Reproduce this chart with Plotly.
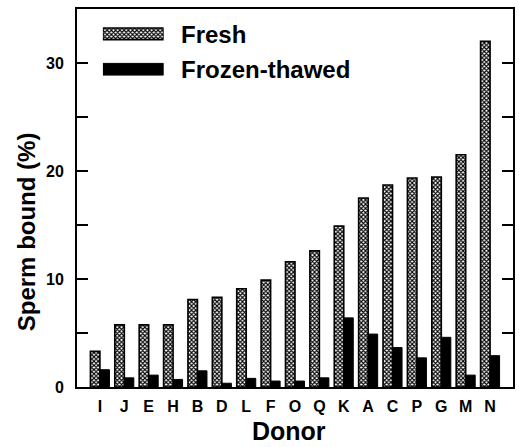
import plotly.graph_objects as go

donors = ["I", "J", "E", "H", "B", "D", "L", "F", "O", "Q", "K", "A", "C", "P", "G", "M", "N"]
fresh = [3.3, 5.75, 5.75, 5.75, 8.1, 8.3, 9.1, 9.9, 11.6, 12.6, 14.9, 17.5, 18.7, 19.35, 19.45, 21.5, 32.0]
frozen = [1.6, 0.85, 1.1, 0.7, 1.5, 0.35, 0.8, 0.55, 0.55, 0.85, 6.4, 4.9, 3.65, 2.7, 4.6, 1.1, 2.9]
series_names = ["Fresh", "Frozen-thawed"]

W, H = 519, 447
L, R, T, B = 77, 4, 9, 60
PW, PH = W - L - R, H - T - B


def px(x):
    return (x - L) / PW


def py(y):
    return (H - B - y) / PH


FONT = "Arial, Liberation Sans, sans-serif"
fresh_pattern = dict(shape="x", size=3, solidity=0.6, fgcolor="black", bgcolor="white", fillmode="replace")

fig = go.Figure()
fig.add_trace(go.Bar(x=donors, y=fresh, name=series_names[0],
                     marker=dict(color="white", pattern=fresh_pattern,
                                 line=dict(color="black", width=1.6)),
                     showlegend=False))
fig.add_trace(go.Bar(x=donors, y=frozen, name=series_names[1],
                     marker=dict(color="black", line=dict(color="black", width=1)),
                     showlegend=False))

# legend swatches drawn as bars on small hidden axes
fig.add_trace(go.Bar(x=[1], y=[1], orientation="h", width=0.33, xaxis="x2", yaxis="y2",
                     marker=dict(color="white", pattern=fresh_pattern,
                                 line=dict(color="black", width=1.6)),
                     showlegend=False, hoverinfo="skip"))
fig.add_trace(go.Bar(x=[1], y=[0], orientation="h", width=0.33, xaxis="x2", yaxis="y2",
                     marker=dict(color="black", line=dict(color="black", width=1)),
                     showlegend=False, hoverinfo="skip"))

fig.update_layout(
    width=W, height=H,
    margin=dict(l=L, r=R, t=T, b=B),
    paper_bgcolor="white", plot_bgcolor="white",
    barmode="group", bargap=0.22, bargroupgap=0,
    font=dict(family=FONT, color="black"),
    xaxis=dict(range=[-0.94, 16.94], showline=True, linecolor="black", linewidth=2,
               mirror=True, ticks="", showgrid=False,
               tickfont=dict(size=16, family=FONT, weight="bold"),
               ticklabelstandoff=4),
    yaxis=dict(range=[0, 35], showline=True, linecolor="black", linewidth=2,
               mirror="allticks", ticks="inside", ticklen=11, tickwidth=1.5, tickcolor="black",
               dtick=10, showgrid=False, zeroline=False,
               minor=dict(dtick=5, ticks="inside", ticklen=11, tickwidth=1.5, tickcolor="black", showgrid=False),
               tickfont=dict(size=16, family=FONT, weight="bold"),
               ticklabelstandoff=8),
    xaxis2=dict(domain=[px(103), px(164)], range=[0, 1], visible=False, anchor="y2", fixedrange=True),
    yaxis2=dict(domain=[0.82, 0.955], range=[-0.22, 1.22], visible=False, anchor="x2", fixedrange=True),
    annotations=[
        dict(text=series_names[0], xref="paper", yref="paper", x=px(179), y=py(34),
             xanchor="left", yanchor="middle", showarrow=False,
             font=dict(size=24, family=FONT, weight="bold")),
        dict(text=series_names[1], xref="paper", yref="paper", x=px(179), y=py(69),
             xanchor="left", yanchor="middle", showarrow=False,
             font=dict(size=24, family=FONT, weight="bold")),
        dict(text="Sperm bound (%)", xref="paper", yref="paper", x=px(26), y=py(232),
             xanchor="center", yanchor="middle", textangle=-90, showarrow=False,
             font=dict(size=24, family=FONT, weight="bold")),
        dict(text="Donor", xref="paper", yref="paper", x=px(290), y=py(431),
             xanchor="center", yanchor="middle", showarrow=False,
             font=dict(size=25, family=FONT, weight="bold")),
    ],
)

fig.write_html("out.html")
